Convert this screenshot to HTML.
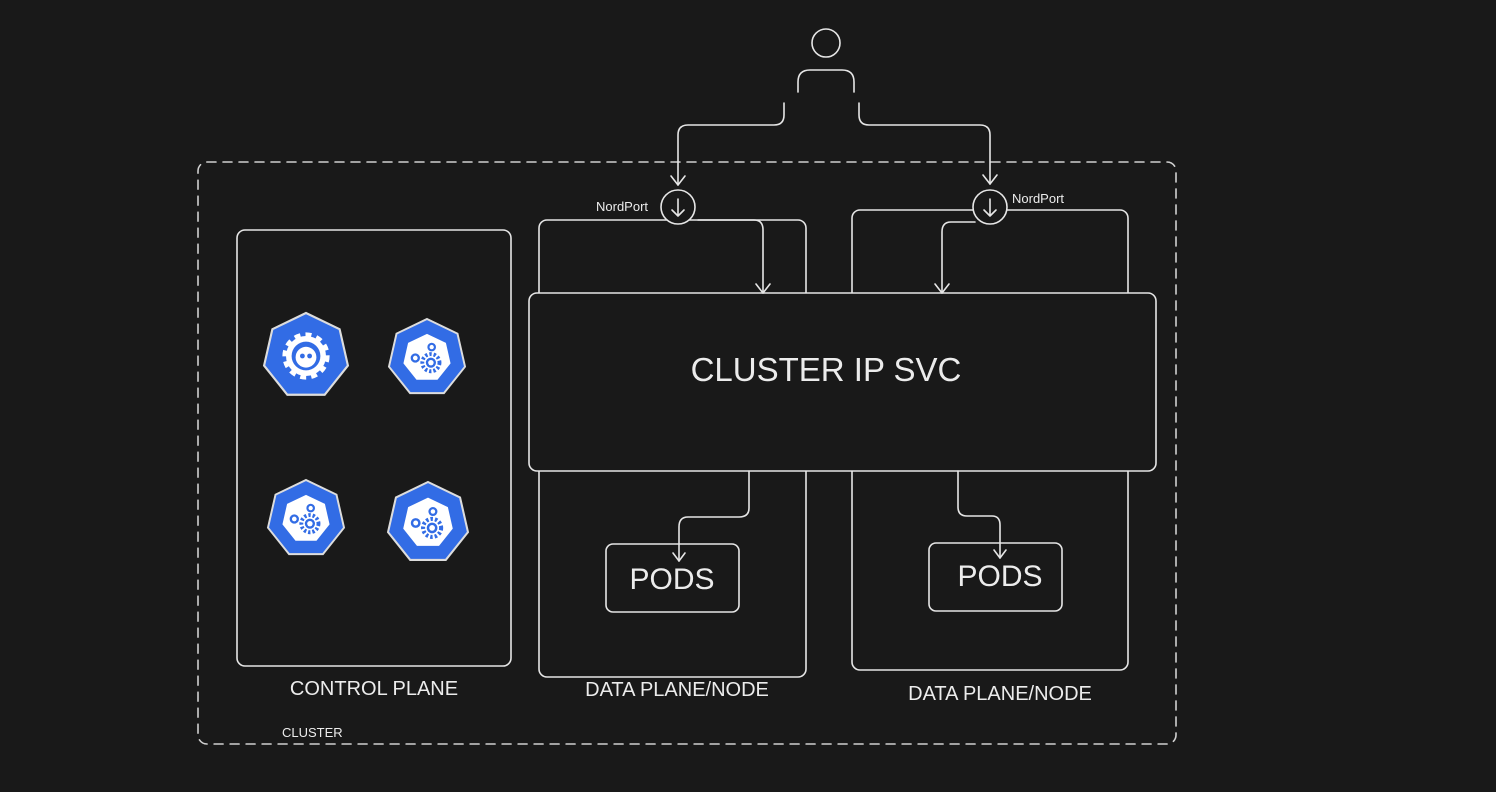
<!DOCTYPE html>
<html><head><meta charset="utf-8"><style>
html,body{margin:0;padding:0;background:#191919;}
svg{display:block}
text{font-family:"Liberation Sans",sans-serif;fill:#ececec}
</style></head><body>
<svg width="1496" height="792" viewBox="0 0 1496 792" xmlns="http://www.w3.org/2000/svg">
<defs>
<polygon id="hep" points="0,-1 0.7818,-0.6235 0.9749,0.2225 0.4339,0.901 -0.4339,0.901 -0.9749,0.2225 -0.7818,-0.6235"/>
<g id="gears">
 <polygon points="0,-1 0.7818,-0.6235 0.9749,0.2225 0.4339,0.901 -0.4339,0.901 -0.9749,0.2225 -0.7818,-0.6235" fill="#fff" transform="scale(0.62)"/>
 <circle cx="0.1" cy="0.12" r="0.22" fill="none" stroke="#326ce5" stroke-width="0.1" stroke-dasharray="0.06 0.05"/>
 <circle cx="0.1" cy="0.12" r="0.13" fill="#326ce5"/>
 <circle cx="0.1" cy="0.12" r="0.07" fill="#fff"/>
 <circle cx="-0.3" cy="0.0" r="0.12" fill="#326ce5"/>
 <circle cx="-0.3" cy="0.0" r="0.06" fill="#fff"/>
 <circle cx="0.12" cy="-0.28" r="0.11" fill="#326ce5"/>
 <circle cx="0.12" cy="-0.28" r="0.055" fill="#fff"/>
</g>
</defs>
<rect width="1496" height="792" fill="#191919"/>
<g fill="none" stroke="#e6e6e6" stroke-width="1.6" stroke-linecap="round" stroke-linejoin="round">
 <!-- cluster -->
 <rect x="198" y="162" width="978" height="582" rx="9" stroke-dasharray="9 7" stroke="#d0d0d0"/>
 <!-- control plane -->
 <rect x="237" y="230" width="274" height="436" rx="8"/>
 <!-- data planes -->
 <rect x="539" y="220" width="267" height="457" rx="8"/>
 <rect x="852" y="210" width="276" height="460" rx="8"/>
 <!-- cluster ip -->
 <rect x="529" y="293" width="627" height="178" rx="8" fill="#191919"/>
 <!-- pods -->
 <rect x="606" y="544" width="133" height="68" rx="7"/>
 <rect x="929" y="543" width="133" height="68" rx="7"/>
 <!-- person -->
 <circle cx="826" cy="43" r="14"/>
 <path d="M798,92 V82 Q798,70 810,70 H842 Q854,70 854,82 V92"/>
 <!-- user arrows -->
 <path d="M784,103 V115 Q784,125 774,125 H688 Q678,125 678,135 V185"/>
 <path d="M671,176 L678,185 L685,176"/>
 <path d="M859,103 V115 Q859,125 869,125 H980 Q990,125 990,135 V184"/>
 <path d="M983,175 L990,184 L997,175"/>
 <!-- nordport circles -->
 <circle cx="678" cy="207" r="17" fill="#191919"/>
 <path d="M678,199 V216 M672,210 L678,216 L684,210"/>
 <circle cx="990" cy="207" r="17" fill="#191919"/>
 <path d="M990,199 V216 M984,210 L990,216 L996,210"/>
 <!-- to cluster ip -->
 <path d="M698,220 H754 Q763,220 763,230 V293"/>
 <path d="M756,284 L763,293 L770,284"/>
 <path d="M975,222 H951 Q942,222 942,232 V293"/>
 <path d="M935,284 L942,293 L949,284"/>
 <!-- to pods -->
 <path d="M749,471 V508 Q749,517 739,517 H688 Q679,517 679,527 V561"/>
 <path d="M673,553 L679,561 L685,553"/>
 <path d="M958,471 V507 Q958,516 967,516 H992 Q1000,516 1000,525 V558"/>
 <path d="M994,550 L1000,558 L1006,550"/>
</g>
<!-- icons -->
<g>
 <g transform="translate(306,356)">
  <use href="#hep" transform="scale(43)" fill="#326ce5" stroke="#ddd" stroke-width="0.05"/>
  <g transform="scale(40)">
   <circle r="0.5" fill="#fff"/>
   <circle r="0.5" fill="none" stroke="#fff" stroke-width="0.18" stroke-dasharray="0.14 0.12"/>
   <circle r="0.36" fill="#326ce5"/>
   <circle cy="0.03" r="0.26" fill="#fff"/>
   <circle cx="-0.09" cy="0" r="0.06" fill="#326ce5"/>
   <circle cx="0.09" cy="0" r="0.06" fill="#326ce5"/>
  </g>
 </g>
 <g transform="translate(427,358)">
  <use href="#hep" transform="scale(39)" fill="#326ce5" stroke="#ddd" stroke-width="0.05"/>
  <use href="#gears" transform="scale(39)"/>
 </g>
 <g transform="translate(306,519)">
  <use href="#hep" transform="scale(39)" fill="#326ce5" stroke="#ddd" stroke-width="0.05"/>
  <use href="#gears" transform="scale(39)"/>
 </g>
 <g transform="translate(428,523)">
  <use href="#hep" transform="scale(41)" fill="#326ce5" stroke="#ddd" stroke-width="0.05"/>
  <use href="#gears" transform="scale(41)"/>
 </g>
</g>
<!-- text -->
<text x="826" y="381" font-size="33" text-anchor="middle">CLUSTER IP SVC</text>
<text x="672" y="589" font-size="30" text-anchor="middle">PODS</text>
<text x="1000" y="586" font-size="30" text-anchor="middle">PODS</text>
<text x="374" y="695" font-size="20" text-anchor="middle">CONTROL PLANE</text>
<text x="677" y="696" font-size="20" text-anchor="middle">DATA PLANE/NODE</text>
<text x="1000" y="700" font-size="20" text-anchor="middle">DATA PLANE/NODE</text>
<text x="282" y="737" font-size="13">CLUSTER</text>
<text x="596" y="211" font-size="13">NordPort</text>
<text x="1012" y="203" font-size="13">NordPort</text>
</svg>
</body></html>
